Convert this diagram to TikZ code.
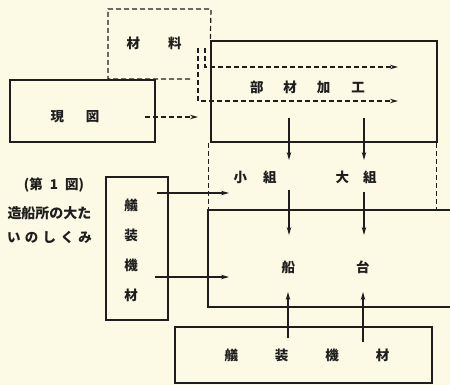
\documentclass[tikz,border=0pt]{standalone}
\usepackage{fontspec}
\setmainfont{Noto Sans CJK JP}
\usetikzlibrary{arrows.meta}
\definecolor{paper}{RGB}{252,250,228}
\definecolor{ink}{RGB}{30,30,30}
\tikzset{
  box/.style={draw=ink, line width=1.3pt, rectangle, inner sep=0pt},
  dline/.style={draw=ink, line width=1.2pt, dash pattern=on 5pt off 3pt},
  arr/.style={draw=ink, line width=1.1pt, -{Stealth[length=8pt,width=4.5pt]}},
  darr/.style={dline, -{Stealth[length=8pt,width=4.5pt]}},
  lbl/.style={inner sep=0pt, font=\fontsize{13.5}{15}\selectfont\bfseries, text=ink},
}
\begin{document}
\begin{tikzpicture}[x=1pt,y=-1pt]
\useasboundingbox[fill=paper] (0,0) rectangle (450,385);
\clip (0,0) rectangle (450,385);
% boxes
\node[box, minimum width=145pt, minimum height=62pt] (genzu) at (82.5,111) {};
\node[box, minimum width=226pt, minimum height=101pt] (buzai) at (324,91.5) {};
\node[box, minimum width=260pt, minimum height=97pt] (sendai) at (338,258.5) {};
\node[box, minimum width=62pt, minimum height=143pt] (gisouv) at (137,248.5) {};
\node[box, minimum width=257pt, minimum height=56pt] (gisoub) at (303.5,355) {};
% zairyo dashed frame
\coordinate (z1) at (190,79);
\coordinate (z2) at (108,79);
\coordinate (z3) at (108,9);
\coordinate (z4) at (211,9);
\path[dline] (z1) -- (z2) -- (z3) -- (z4) -- (buzai.north west);
% dashed sides between buzai and sendai
\path[dline] ([xshift=-2pt]buzai.south west) -- ([xshift=-2pt]buzai.south west |- sendai.north);
\path[dline] ([xshift=-1pt]buzai.south east) -- ([xshift=-1pt]buzai.south east |- sendai.north);
% labels
\node[lbl] (zairyo) at (154,43) {材\hspace{28pt}料};
\node[lbl] (genzut) at (75,117) {現\hspace{22pt}図};
\node[lbl] (buzait) at (307.5,87) {部\hspace{20pt}材\hspace{20pt}加\hspace{21pt}工};
\node[lbl] (kogumi) at (255,177) {小\hspace{16pt}組};
\node[lbl] (ogumi) at (356,177) {大\hspace{14pt}組};
\node[lbl] (sendait) at (325.5,267) {船\hspace{61pt}台};
\node[lbl, align=center, font=\fontsize{13.5}{30}\selectfont\bfseries] (gisouvt) at (131,250) {艤\\装\\機\\材};
\node[lbl] (gisoubt) at (307,355) {艤\hspace{37pt}装\hspace{37pt}機\hspace{37pt}材};
% caption
\node[lbl] (cap1) at (54,185) {(第\hspace{7pt}1\hspace{7pt}図)};
\node[lbl, font=\fontsize{14}{15}\selectfont\bfseries] (cap2) at (49.5,213) {造船所の大た};
\node[lbl] (cap3) at (49.5,237) {\makebox[85pt]{い\hfill の\hfill し\hfill く\hfill み}};
% dashed flows
\coordinate (g0) at (145,117);
\coordinate (g1) at (198,117);
\path[darr] (g0) -- (g1);
\coordinate (f1a) at (198,48);
\coordinate (f1b) at (198,101);
\coordinate (f1c) at (398,101);
\path[darr] (f1a) -- (f1b) -- (f1c);
\coordinate (f2a) at (205,48);
\coordinate (f2b) at (205,67);
\coordinate (f2c) at (398,67);
\path[darr] (f2a) -- (f2b) -- (f2c);
% solid arrows
\coordinate (a1s) at (289,118); \coordinate (a1e) at (289,160);
\coordinate (a2s) at (364,118); \coordinate (a2e) at (364,160);
\path[arr] (a1s) -- (a1e);
\path[arr] (a2s) -- (a2e);
\coordinate (b1s) at (289,190); \coordinate (b1e) at (289,235);
\coordinate (b2s) at (364,192); \coordinate (b2e) at (364,235);
\path[arr] (b1s) -- (b1e);
\path[arr] (b2s) -- (b2e);
\coordinate (c1s) at (288,338); \coordinate (c1e) at (288,292);
\coordinate (c2s) at (363,342); \coordinate (c2e) at (363,292);
\path[arr] (c1s) -- (c1e);
\path[arr] (c2s) -- (c2e);
\coordinate (h1s) at (157,193); \coordinate (h1e) at (229,193);
\coordinate (h2s) at (155,277); \coordinate (h2e) at (229,277);
\path[arr] (h1s) -- (h1e);
\path[arr] (h2s) -- (h2e);
\end{tikzpicture}
\end{document}
